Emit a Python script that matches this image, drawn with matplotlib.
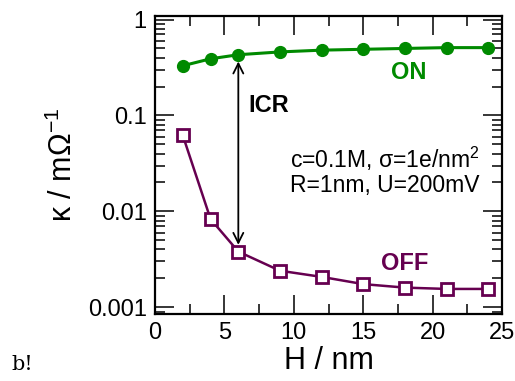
import matplotlib
matplotlib.use('Agg')
import matplotlib.pyplot as plt
from matplotlib.ticker import LogLocator, NullFormatter, FixedLocator, FixedFormatter

plt.rcParams['font.family'] = ['Liberation Sans', 'DejaVu Sans']
plt.rcParams['mathtext.fontset'] = 'custom'
plt.rcParams['mathtext.rm'] = 'Liberation Sans'
plt.rcParams['mathtext.it'] = 'Liberation Sans:italic'

# data
H = [2, 4, 6, 9, 12, 15, 18, 21, 24]
kappa_on = [0.33, 0.39, 0.43, 0.46, 0.48, 0.49, 0.50, 0.51, 0.51]
kappa_off = [0.062, 0.0083, 0.0038, 0.0024, 0.00207, 0.00174, 0.0016, 0.00155, 0.00155]
ytick_vals = [0.001, 0.01, 0.1, 1]
ytick_labels = ['0.001', '0.01', '0.1', '1']

green = '#008a00'
purple = '#660050'

fig = plt.figure(figsize=(5.15, 3.81), dpi=100)
ax = fig.add_axes([0.301, 0.176, 0.674, 0.782])

ax.plot(H, kappa_on, '-o', color=green, lw=2.2, ms=8.5, zorder=3)
ax.plot(H, kappa_off, '-s', color=purple, lw=1.8, ms=8.5, mfc='white',
        mec=purple, mew=2, zorder=3)

ax.set_yscale('log')
ax.set_xlim(0, 25)
ax.set_ylim(0.00085, 1.09)

ax.xaxis.set_major_locator(FixedLocator([0, 5, 10, 15, 20, 25]))
ax.xaxis.set_minor_locator(FixedLocator([2.5, 7.5, 12.5, 17.5, 22.5]))
ax.yaxis.set_major_locator(FixedLocator(ytick_vals))
ax.yaxis.set_major_formatter(FixedFormatter(ytick_labels))
ax.yaxis.set_minor_locator(LogLocator(base=10, subs=range(2, 10)))
ax.yaxis.set_minor_formatter(NullFormatter())

ax.tick_params(which='both', direction='in', top=True, right=True,
               labelsize=17, width=1.1)
ax.tick_params(which='major', length=14, pad=6)
ax.tick_params(which='minor', length=7)
for s in ax.spines.values():
    s.set_linewidth(1.6)

ax.set_xlabel('H / nm', fontsize=22, labelpad=1)
ax.set_ylabel('κ / mΩ$^{-1}$', fontsize=22, labelpad=6)

# ICR arrow between ON and OFF at H = 6
ax.annotate('', xy=(6, kappa_off[2] * 1.1), xytext=(6, kappa_on[2] / 1.1),
            arrowprops=dict(arrowstyle='<->', color='black', lw=1.3,
                            mutation_scale=18))
ax.text(6.7, 0.127, 'ICR', fontsize=17, fontweight='bold', va='center')
ax.text(17.0, 0.28, 'ON', fontsize=17, fontweight='bold', color=green, va='center')
ax.text(16.3, 0.00283, 'OFF', fontsize=17, fontweight='bold', color=purple, va='center')
ax.text(23.4, 0.0355, 'c=0.1M, σ=1e/nm$^2$', fontsize=16.5, ha='right', va='center')
ax.text(23.4, 0.0185, 'R=1nm, U=200mV', fontsize=16.5, ha='right', va='center')

fig.text(0.023, 0.03, 'b!', fontsize=15, family='DejaVu Serif')

fig.savefig('out.png', dpi=100)
